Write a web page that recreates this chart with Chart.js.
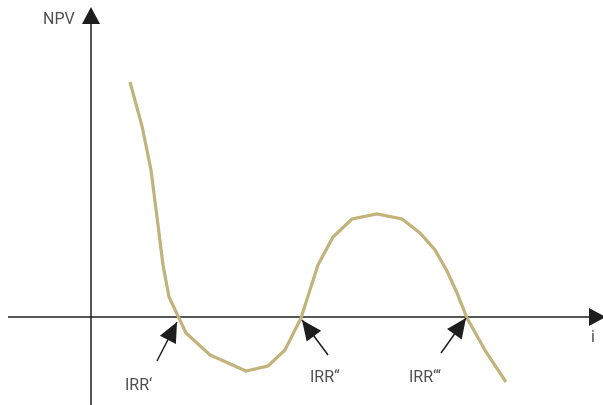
<!DOCTYPE html>
<html>
<head>
<meta charset="utf-8">
<script src="https://cdn.jsdelivr.net/npm/chart.js@4/dist/chart.umd.min.js"></script>
<style>
    html, body { margin: 0; padding: 0; background: #fff; }
    #wrap { width: 603px; height: 405px; position: relative; }
</style>
</head>
<body>
<div id="wrap"><canvas id="npvChart"></canvas></div>
<script>
// NPV profile (i on x, NPV on y)
const rates = [3.9, 5.1, 6.0, 6.7, 7.2, 7.8, 8.7, 9.5, 11.9, 15.5, 17.7, 19.4, 21.0, 22.7, 24.2, 26.1, 28.6, 31.1, 32.9, 34.4, 35.6, 36.6, 37.6, 39.5, 41.5];
const npvValues = [23.5, 19.1, 14.7, 9.2, 5.2, 2.0, 0.1, -1.6, -3.8, -5.4, -4.9, -3.3, -0.1, 5.2, 8.0, 9.8, 10.3, 9.8, 8.4, 6.7, 4.6, 2.4, -0.1, -3.5, -6.5];

// internal rates of return (zero crossings) and their labels
const irrRates = [8.7, 21.0, 37.6];
const irrLabels = ['IRR‘', 'IRR“', 'IRR‘‘‘'];

const axisColor = '#1e1e1e';
const textColor = '#505050';
const labelFont = '16px "Liberation Sans Narrow", Roboto, sans-serif';

// label/arrow offsets from each crossing point, in pixels
const irrStyle = [
    { tail: [-21, 44], tip: [-1, 5], text: [-53, 73] },
    { tail: [27, 38], tip: [1, 3], text: [9, 65] },
    { tail: [-26, 36], tip: [-1, 1], text: [-58, 65] }
];

function arrowHead(ctx, x1, y1, x2, y2, len, half) {
    const a = Math.atan2(y2 - y1, x2 - x1);
    ctx.beginPath();
    ctx.moveTo(x2, y2);
    ctx.lineTo(x2 - len * Math.cos(a) + half * Math.sin(a), y2 - len * Math.sin(a) - half * Math.cos(a));
    ctx.lineTo(x2 - len * Math.cos(a) - half * Math.sin(a), y2 - len * Math.sin(a) + half * Math.cos(a));
    ctx.closePath();
    ctx.fill();
}

const axesPlugin = {
    id: 'axesPlugin',
    beforeDatasetsDraw(chart) {
        const { ctx, scales: { x, y }, width, height } = chart;
        const x0 = x.getPixelForValue(0);
        const y0 = y.getPixelForValue(0);
        ctx.save();
        ctx.strokeStyle = axisColor;
        ctx.fillStyle = axisColor;
        ctx.lineWidth = 1.5;
        // horizontal axis
        ctx.beginPath();
        ctx.moveTo(8, y0);
        ctx.lineTo(width - 8, y0);
        ctx.stroke();
        arrowHead(ctx, 0, y0, width + 3, y0, 17, 9);
        // vertical axis
        ctx.beginPath();
        ctx.moveTo(x0, height);
        ctx.lineTo(x0, 22);
        ctx.stroke();
        arrowHead(ctx, x0, height, x0, 7, 17, 9);

        ctx.fillStyle = textColor;
        ctx.font = labelFont;
        ctx.textBaseline = 'alphabetic';
        ctx.textAlign = 'left';
        ctx.fillText('NPV', 43, 24);
        ctx.fillText('i', 591, y0 + 25);
        ctx.restore();
    },
    afterDatasetsDraw(chart) {
        const { ctx, scales: { x, y } } = chart;
        const y0 = y.getPixelForValue(0);
        ctx.save();
        ctx.strokeStyle = axisColor;
        ctx.fillStyle = axisColor;
        ctx.lineWidth = 1.5;
        irrRates.forEach((r, k) => {
            const px = x.getPixelForValue(r);
            const s = irrStyle[k];
            const tx = px + s.tail[0], ty = y0 + s.tail[1];
            const hx = px + s.tip[0], hy = y0 + s.tip[1];
            ctx.beginPath();
            ctx.moveTo(tx, ty);
            ctx.lineTo(hx, hy);
            ctx.stroke();
            arrowHead(ctx, tx, ty, hx, hy, 20, 9);
        });
        ctx.fillStyle = textColor;
        ctx.font = labelFont;
        ctx.textAlign = 'left';
        irrRates.forEach((r, k) => {
            const px = x.getPixelForValue(r);
            const s = irrStyle[k];
            ctx.fillText(irrLabels[k], px + s.text[0], y0 + s.text[1]);
        });
        ctx.restore();
    }
};

new Chart(document.getElementById('npvChart'), {
    type: 'line',
    data: {
        datasets: [{
            data: rates.map((r, k) => ({ x: r, y: npvValues[k] })),
            borderColor: '#c2b37b',
            borderWidth: 3.2,
            pointRadius: 0,
            tension: 0,
            fill: false
        }]
    },
    options: {
        responsive: true,
        maintainAspectRatio: false,
        animation: false,
        layout: { padding: 0 },
        plugins: {
            legend: { display: false },
            tooltip: { enabled: false }
        },
        scales: {
            x: { type: 'linear', display: false, min: -9.1, max: 51.2 },
            y: { type: 'linear', display: false, min: -8.8, max: 31.7 }
        }
    },
    plugins: [axesPlugin]
});
</script>
</body>
</html>
